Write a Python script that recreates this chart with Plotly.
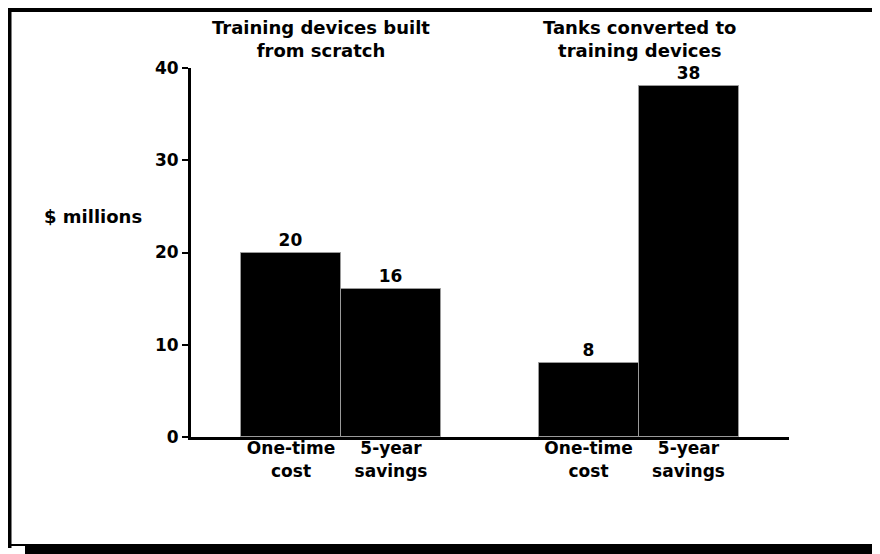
import plotly.graph_objects as go

# ---- data ----
groups = ["Training devices built<br>from scratch", "Tanks converted to<br>training devices"]
bar_labels = ["One-time<br>cost", "5-year<br>savings"]
scratch_values = [20, 16]
tanks_values = [8, 38]
y_ticks = [0, 10, 20, 30, 40]
y_title = "$ millions"

# ---- layout helpers (pixel geometry of the 880x554 window; page body has 8px margin) ----
OFF = 8
W, H = 880 - OFF, 554 - OFF
L, R, T, B = 191 - OFF, 789 - OFF, 68 - OFF, 437 - OFF   # plot area in figure pixels
UNIT = 100.0                                             # pixels per x unit
group_offsets = [1.0, 3.975]
x_range = [0, (R - L) / UNIT]

def px(xp):
    return (xp - OFF - L) / (R - L)

def py(yp):
    return (B - (yp - OFF)) / (B - T)

FONT = dict(family="DejaVu Sans", size=17, color="black", weight="bold")

fig = go.Figure()
all_x, all_text = [], []
for off, vals in zip(group_offsets, [scratch_values, tanks_values]):
    xs = [off + i for i in range(len(vals))]
    all_x += xs
    all_text += bar_labels
    fig.add_trace(go.Bar(
        x=xs, y=vals, width=1.0,
        marker=dict(color="black", line=dict(color="#9a9a9a", width=1)),
        text=[str(v) for v in vals], textposition="outside",
        textfont=FONT, cliponaxis=False, showlegend=False,
        hoverinfo="skip",
    ))

fig.update_layout(
    width=W, height=H,
    margin=dict(l=L, r=W - R, t=T, b=H - B, pad=0),
    paper_bgcolor="white", plot_bgcolor="white",
    font=FONT,
    bargap=0,
    xaxis=dict(range=x_range, tickvals=all_x, ticktext=all_text,
               showline=True, linecolor="black", linewidth=3,
               showgrid=False, zeroline=False, ticks="",
               ticklabelstandoff=-6,
               tickfont=FONT, fixedrange=True),
    yaxis=dict(range=[0, 40], tickvals=y_ticks,
               showline=True, linecolor="black", linewidth=3,
               ticks="outside", ticklen=6, tickwidth=2, tickcolor="black",
               showgrid=False, zeroline=False, tickfont=FONT,
               fixedrange=True),
)

# group titles
title_centers = [321, 639.5]
for g, cx in zip(groups, title_centers):
    fig.add_annotation(text=g, x=(cx - OFF - L) / UNIT, xref="x", y=1, yref="paper",
                       yshift=(T + OFF) - 39, yanchor="middle", xanchor="center",
                       showarrow=False, font=dict(FONT, size=18))

# y title
fig.add_annotation(text=y_title, x=px(144), xref="paper", xanchor="right",
                   y=py(216), yref="paper", yanchor="middle",
                   showarrow=False, font=dict(FONT, size=18))

# frame
line = dict(color="black")
fig.add_shape(type="line", xref="paper", yref="paper",
              x0=px(7), x1=px(880), y0=py(9.5), y1=py(9.5), line=dict(line, width=5))
fig.add_shape(type="line", xref="paper", yref="paper",
              x0=px(9.5), x1=px(9.5), y0=py(7), y1=py(548), line=dict(line, width=4))
fig.add_shape(type="line", xref="paper", yref="paper",
              x0=px(877.5), x1=px(877.5), y0=py(7), y1=py(548), line=dict(line, width=3))
fig.add_shape(type="line", xref="paper", yref="paper",
              x0=px(9), x1=px(880), y0=py(545), y1=py(545), line=dict(line, width=2))
fig.add_shape(type="rect", xref="paper", yref="paper",
              x0=px(25), x1=px(880), y0=py(546), y1=py(554),
              fillcolor="black", line=dict(width=0))

fig.write_html("out.html")
